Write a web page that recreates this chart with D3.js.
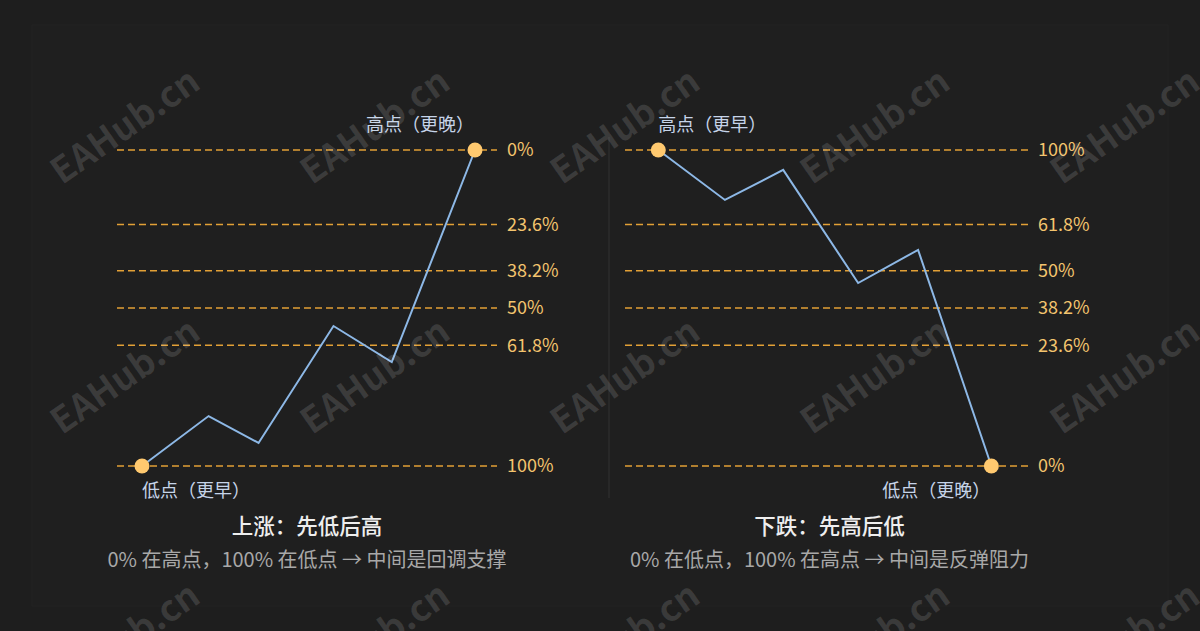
<!DOCTYPE html>
<html>
<head>
<meta charset="utf-8">
<script src="https://cdn.jsdelivr.net/npm/d3@7"></script>
<style>
  html, body { margin: 0; padding: 0; background: #1e1e1e; }
  svg { display: block; }
  text { font-family: "Noto Sans CJK SC", "Noto Sans", sans-serif; }
</style>
</head>
<body>
<svg id="chart" width="1200" height="631"></svg>
<script>
// ---------- data ----------
// Left panel: uptrend (low first, then high)
const upTime  = [0, 2, 3.5, 5.75, 7.5, 10];
const upPrice = [0, 0.158, 0.073, 0.443, 0.329, 1];   // normalized: 0 = low, 1 = high
// Right panel: downtrend (high first, then low)
const downTime  = [0, 2, 3.75, 6, 7.8, 10];
const downPrice = [1, 0.842, 0.937, 0.579, 0.684, 0];
// Fibonacci levels: depth below the high (same placement in both panels)
const levelDepth = [0, 23.6, 38.2, 50, 61.8, 100];
const upLevelLabels   = ["0%", "23.6%", "38.2%", "50%", "61.8%", "100%"];
const downLevelLabels = ["100%", "61.8%", "50%", "38.2%", "23.6%", "0%"];

const upTitle = "上涨：先低后高";
const upSubtitle = "0% 在高点，100% 在低点 → 中间是回调支撑";
const downTitle = "下跌：先高后低";
const downSubtitle = "0% 在低点，100% 在高点 → 中间是反弹阻力";
const upLabels = { start: "低点（更早）", end: "高点（更晚）" };
const downLabels = { start: "高点（更早）", end: "低点（更晚）" };
const watermark = "EAHub.cn";

// ---------- drawing ----------
const svg = d3.select("#chart");
svg.append("rect").attr("width", 1200).attr("height", 631).attr("fill", "#1e1e1e");
svg.append("rect").attr("x", 32).attr("y", 25).attr("width", 1136).attr("height", 581)
  .attr("fill", "#1f1f1f").attr("stroke", "#232323");

// divider
svg.append("line").attr("x1", 609).attr("x2", 609).attr("y1", 137).attr("y2", 498)
  .attr("stroke", "#333").attr("stroke-width", 1);

const y = d3.scaleLinear().domain([0, 1]).range([466, 150]);

const levelColor = "#e2a036";
const labelColor = "#f3c46e";
const lineColor = "#8db8e6";
const dotColor = "#ffc96f";
const annColor = "#c6d4e8";

function panel(opt) {
  const x = d3.scaleLinear().domain(opt.xDomain).range(opt.xRange);
  const g = svg.append("g");
  const levelPrice = d => 1 - d / 100;

  g.selectAll("line.lvl").data(levelDepth).join("line")
    .attr("class", "lvl")
    .attr("x1", opt.xRange[0]).attr("x2", opt.xRange[1])
    .attr("y1", d => y(levelPrice(d))).attr("y2", d => y(levelPrice(d)))
    .attr("stroke", levelColor).attr("stroke-width", 1.5)
    .attr("stroke-dasharray", "7,4");

  g.selectAll("text.lvl").data(levelDepth).join("text")
    .attr("class", "lvl")
    .attr("x", opt.xRange[1] + 10)
    .attr("y", d => y(levelPrice(d)))
    .attr("dy", "0.35em")
    .attr("fill", labelColor).attr("font-size", 18)
    .text((d, i) => opt.levelLabels[i]);

  const pts = opt.time.map((t, i) => [t, opt.price[i]]);
  g.append("path").datum(pts)
    .attr("fill", "none").attr("stroke", lineColor).attr("stroke-width", 2)
    .attr("stroke-linejoin", "miter")
    .attr("d", d3.line().x(d => x(d[0])).y(d => y(d[1])));

  const ends = [pts[0], pts[pts.length - 1]];
  g.selectAll("circle").data(ends).join("circle")
    .attr("cx", d => x(d[0])).attr("cy", d => y(d[1]))
    .attr("r", 7.5).attr("fill", dotColor);

  opt.annotate(g, x, pts);

  const cx = (opt.xRange[0] + opt.xRange[1]) / 2 + opt.titleShift;
  g.append("text").attr("x", cx).attr("y", 534).attr("text-anchor", "middle")
    .attr("fill", "#eeeeee").attr("font-size", 21.5).attr("font-weight", 500)
    .text(opt.title);
  g.append("text").attr("x", cx).attr("y", 567).attr("text-anchor", "middle")
    .attr("fill", "#a8a8a8").attr("font-size", 20)
    .text(opt.subtitle);
}

panel({
  xDomain: [-0.75, 10.66], xRange: [117, 497],
  time: upTime, price: upPrice,
  levelLabels: upLevelLabels,
  title: upTitle, subtitle: upSubtitle, titleShift: 0,
  annotate: (g, x, pts) => {
    const a = pts[0], b = pts[pts.length - 1];
    g.append("text").attr("x", x(a[0])).attr("y", y(a[1]) + 31)
      .attr("fill", annColor).attr("font-size", 18).text(upLabels.start);
    g.append("text").attr("x", x(b[0]) - 1).attr("y", y(b[1]) - 19)
      .attr("text-anchor", "end")
      .attr("fill", annColor).attr("font-size", 18).text(upLabels.end);
  }
});

panel({
  xDomain: [-1, 11.1], xRange: [625, 1028],
  time: downTime, price: downPrice,
  levelLabels: downLevelLabels,
  title: downTitle, subtitle: downSubtitle, titleShift: 3,
  annotate: (g, x, pts) => {
    const a = pts[0], b = pts[pts.length - 1];
    g.append("text").attr("x", x(a[0])).attr("y", y(a[1]) - 19)
      .attr("fill", annColor).attr("font-size", 18).text(downLabels.start);
    g.append("text").attr("x", x(b[0]) - 1).attr("y", y(b[1]) + 31)
      .attr("text-anchor", "end")
      .attr("fill", annColor).attr("font-size", 18).text(downLabels.end);
  }
});

// watermark grid
const wmX = [125, 375, 625, 875, 1125];
const wmY = [126, 376, 640];
const wm = svg.append("g").attr("pointer-events", "none");
wmY.forEach(yy => wmX.forEach(xx => {
  wm.append("text")
    .attr("transform", `translate(${xx},${yy}) rotate(-35)`)
    .attr("text-anchor", "middle").attr("dy", "0.35em")
    .attr("font-family", "Liberation Sans, Arial, sans-serif")
    .attr("font-size", 36).attr("font-weight", "bold")
    .attr("fill", "rgba(255,255,255,0.13)")
    .text(watermark);
}));
</script>
</body>
</html>
